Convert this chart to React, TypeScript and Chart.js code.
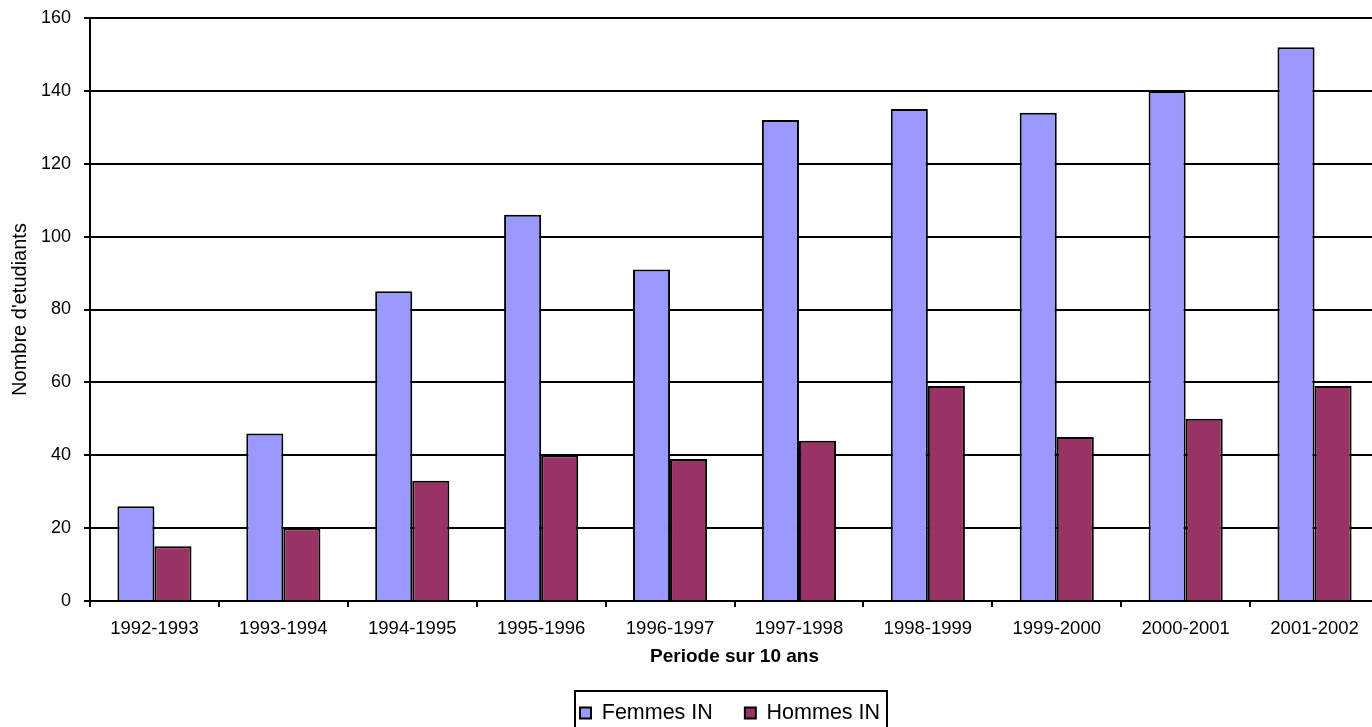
import React, { useEffect, useRef } from 'react';
import { Chart, registerables } from 'chart.js';

Chart.register(...registerables);

const categories = [
  '1992-1993', '1993-1994', '1994-1995', '1995-1996', '1996-1997',
  '1997-1998', '1998-1999', '1999-2000', '2000-2001', '2001-2002',
];
const femmesIN = [26, 46, 85, 106, 91, 132, 135, 134, 140, 152];
const hommesIN = [15, 20, 33, 40, 39, 44, 59, 45, 50, 59];
const seriesNames = ['Femmes IN', 'Hommes IN'];
const yMin = 0;
const yMax = 160;
const yStep = 20;
const xTitle = 'Periode sur 10 ans';
const yTitle = "Nombre d'etudiants";

const FONT = "'Liberation Sans', Arial, sans-serif";

const legendPlacePlugin = {
  id: 'legendPlace',
  afterLayout(chart: any) {
    const lg = chart.legend;
    if (!lg) return;
    const p = lg.options.labels.padding;
    const lw = lg.lineWidths[0];
    const startX = 580;
    const h = lg.height;
    lg.left = startX - p;
    lg.right = startX + lw;
    lg.width = lg.right - lg.left;
    lg.top = 713 - 10.75 - p;
    lg.bottom = lg.top + h;
  },
  afterDraw(chart: any) {
    const lg = chart.legend;
    if (!lg || !lg.legendHitBoxes || !lg.legendHitBoxes.length) return;
    const hbs = lg.legendHitBoxes;
    const first = hbs[0];
    const last = hbs[hbs.length - 1];
    const left = first.left - 5;
    const right = last.left + last.width + 7;
    const top = first.top + first.height / 2 - 22;
    const ctx = chart.ctx;
    ctx.save();
    ctx.strokeStyle = '#000';
    ctx.lineWidth = 2;
    ctx.strokeRect(Math.round(left), Math.round(top), Math.round(right - left), 80);
    ctx.restore();
  },
};

export default function App() {
  const canvasRef = useRef<HTMLCanvasElement | null>(null);

  useEffect(() => {
    if (!canvasRef.current) return;
    const chart = new Chart(canvasRef.current, {
      type: 'bar',
      data: {
        labels: categories,
        datasets: [
          {
            label: seriesNames[0],
            data: femmesIN,
            backgroundColor: '#9999FF',
            borderColor: '#000000',
            borderWidth: 2,
            categoryPercentage: 0.575,
            barPercentage: 1,
          },
          {
            label: seriesNames[1],
            data: hommesIN,
            backgroundColor: '#993366',
            borderColor: '#000000',
            borderWidth: 2,
            categoryPercentage: 0.575,
            barPercentage: 1,
          },
        ],
      },
      options: {
        responsive: false,
        animation: false,
        devicePixelRatio: 1,
        layout: { padding: { left: 0, right: 21, top: 18, bottom: 12.5 } },
        plugins: {
          tooltip: { enabled: false },
          title: { display: false },
          legend: {
            display: true,
            position: 'bottom',
            align: 'center',
            labels: {
              boxWidth: 11,
              boxHeight: 11,
              padding: 32,
              color: '#000',
              font: { family: FONT, size: 21.5 },
            },
          },
        },
        scales: {
          x: {
            offset: true,
            grid: {
              display: true,
              offset: true,
              drawOnChartArea: false,
              drawTicks: true,
              tickLength: 6,
              color: '#000',
              lineWidth: 2,
            },
            border: { display: true, color: '#000', width: 2 },
            ticks: {
              color: '#000',
              font: { family: FONT, size: 18.5 },
              maxRotation: 0,
              minRotation: 0,
              autoSkip: false,
              padding: 11,
            },
            title: {
              display: true,
              text: xTitle,
              color: '#000',
              font: { family: FONT, size: 19, weight: 'bold' },
              padding: { top: 0, bottom: 1 },
            },
            afterFit(scale: any) {
              scale.height = 68;
              scale.paddingLeft = 0;
              scale.paddingRight = 0;
            },
          },
          y: {
            min: yMin,
            max: yMax,
            grid: {
              display: true,
              drawOnChartArea: true,
              drawTicks: true,
              tickLength: 6,
              color: '#000',
              lineWidth: 2,
            },
            border: { display: true, color: '#000', width: 2 },
            ticks: {
              stepSize: yStep,
              color: '#000',
              font: { family: FONT, size: 18 },
              padding: 13,
            },
            title: {
              display: true,
              text: yTitle,
              color: '#000',
              font: { family: FONT, size: 20 },
              padding: { top: 8, bottom: 0 },
            },
            afterFit(scale: any) {
              scale.width = 90;
              scale.paddingTop = 0;
              scale.paddingBottom = 0;
            },
          },
        },
      },
      plugins: [legendPlacePlugin],
    } as any);
    return () => chart.destroy();
  }, []);

  return (
    <div
      style={{
        position: 'fixed',
        left: 0,
        top: 0,
        width: 1372,
        height: 727,
        overflow: 'hidden',
        background: '#fff',
      }}
    >
      <canvas ref={canvasRef} width={1400} height={745} style={{ display: 'block' }} />
    </div>
  );
}
